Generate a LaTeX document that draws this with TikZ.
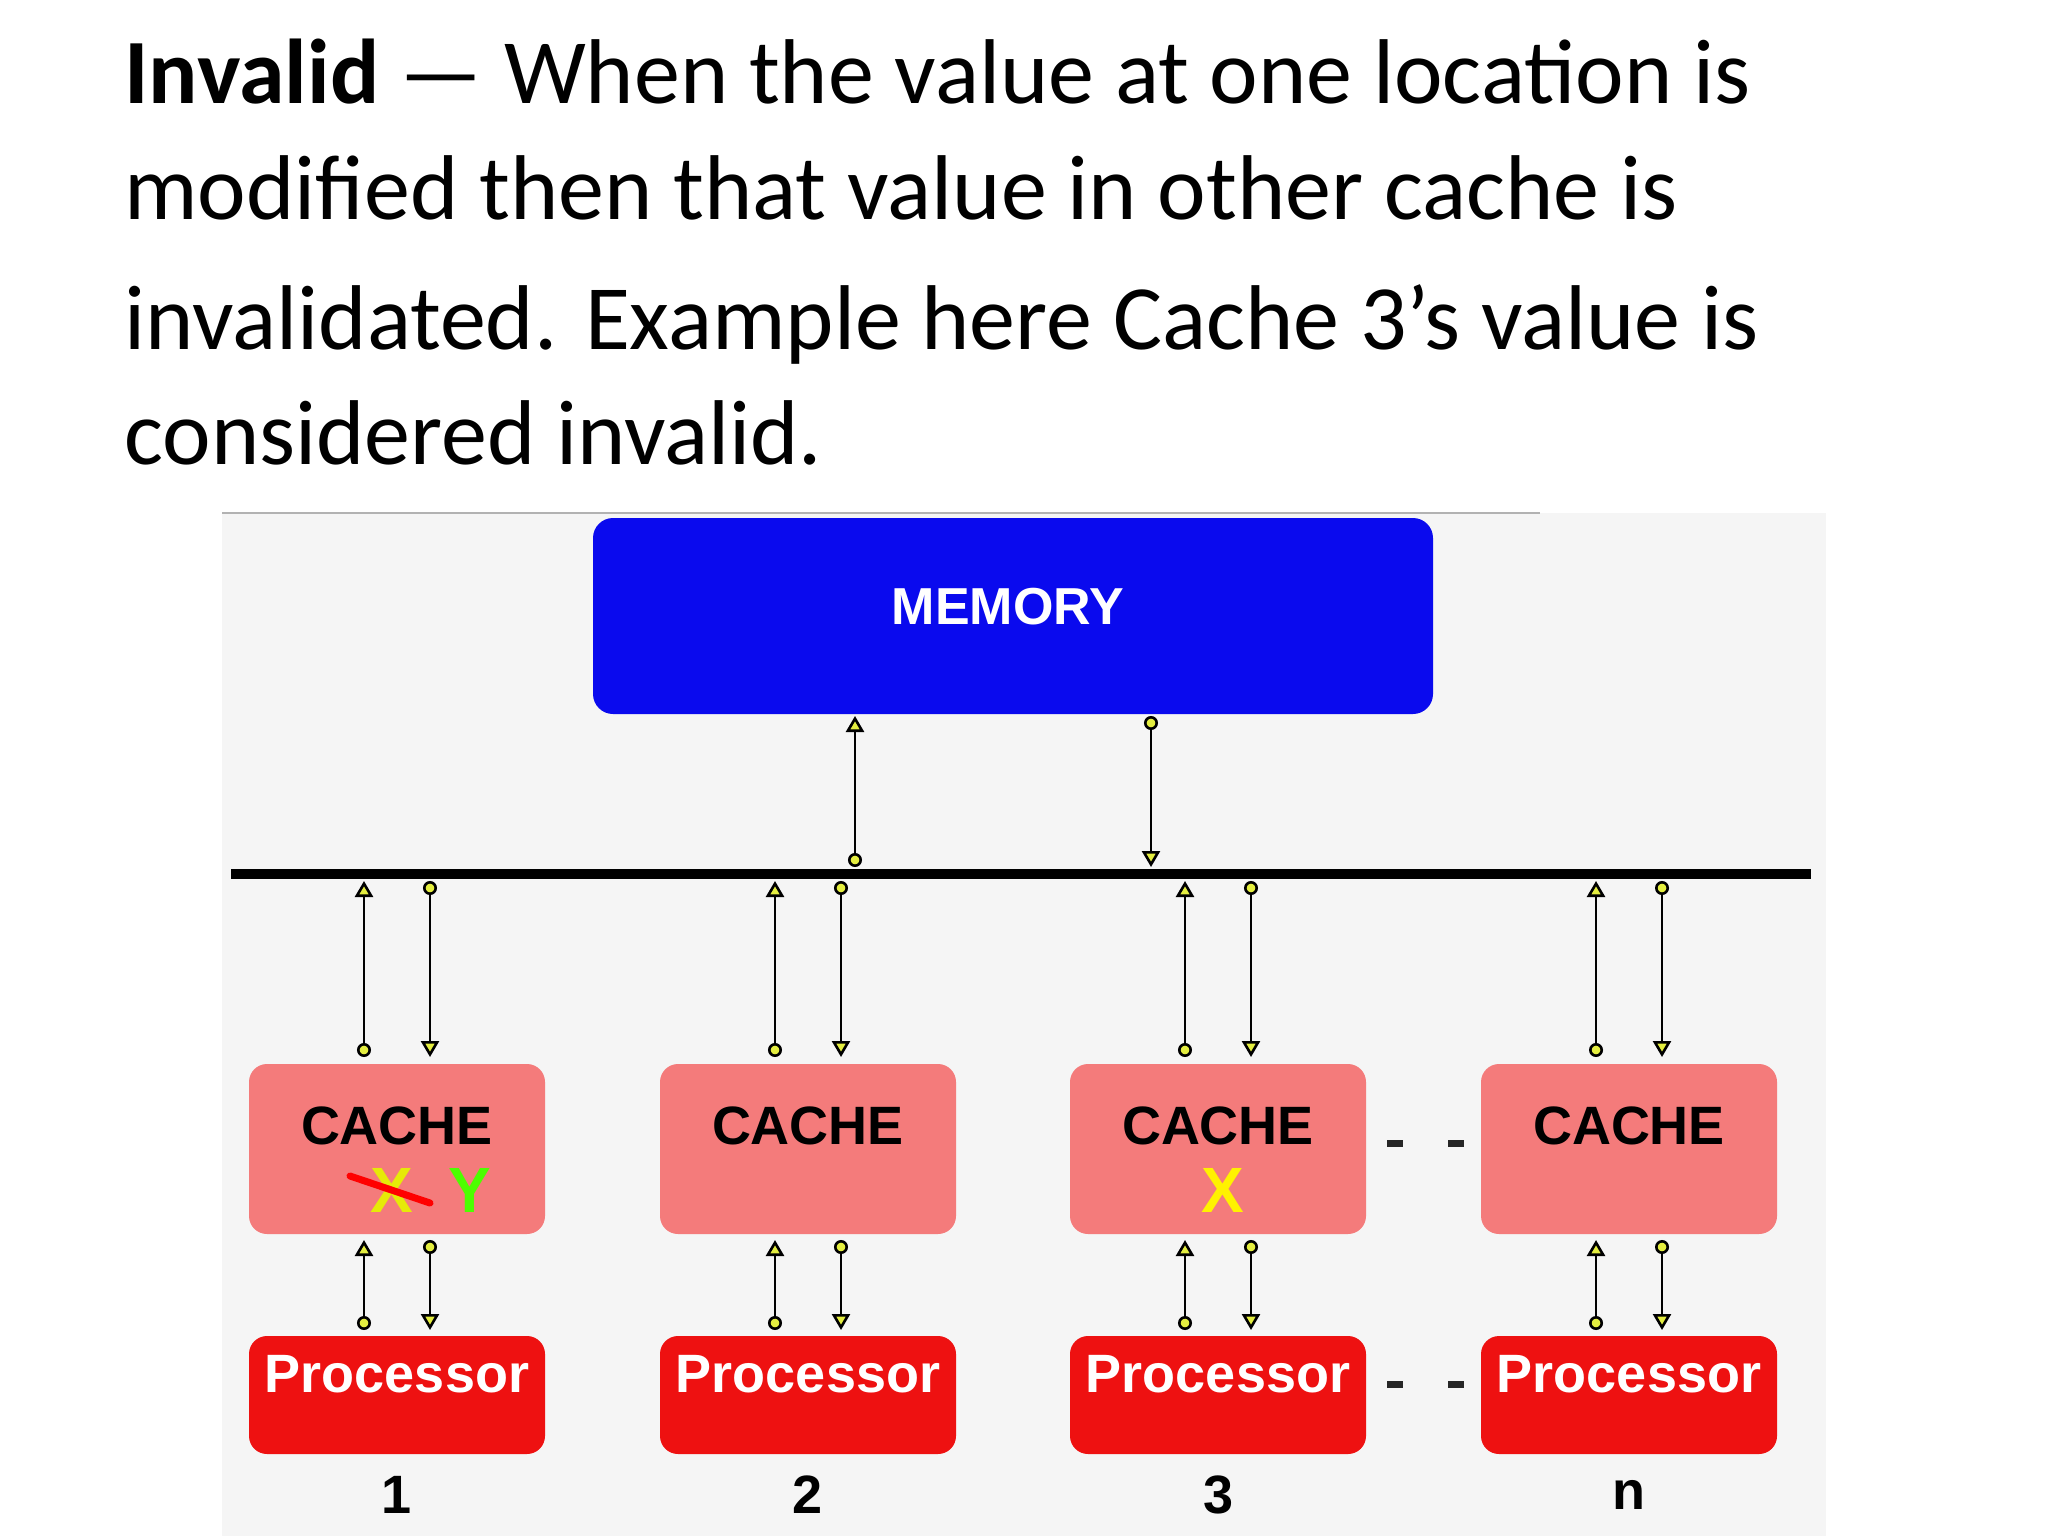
\documentclass[tikz,border=0pt]{standalone}
\usepackage{fontspec}
\setmainfont{Carlito}
\newfontfamily\lab{Liberation Sans}
\usetikzlibrary{arrows.meta}
\definecolor{bg}{HTML}{F5F5F5}
\definecolor{cachec}{HTML}{F47B7B}
\definecolor{procc}{HTML}{EE1111}
\definecolor{memc}{HTML}{0A0AEE}
\definecolor{mk}{HTML}{E4EE40}
\begin{document}
\begin{tikzpicture}[x=0.5pt,y=-0.5pt,
  box/.style={draw=none,rounded corners=9pt,minimum width=148pt,inner sep=0pt},
  cache/.style={box,fill=cachec,minimum height=85pt},
  proc/.style={box,fill=procc,minimum height=59pt},
  lbl/.style={font=\lab\bfseries\fontsize{27}{27}\selectfont},
  up/.style={line width=1.3pt,{Circle[fill=mk,length=7pt,width=7pt]}-{Triangle[fill=mk,length=8pt,width=9pt]}},
  dn/.style={line width=1.3pt,{Circle[fill=mk,length=7pt,width=7pt]}-{Triangle[fill=mk,length=8pt,width=9pt]}},
  ttl/.style={anchor=base west,inner sep=0pt,font=\fontsize{46}{46}\selectfont}]
\useasboundingbox (0,0) rectangle (2048,1536);
\fill[white] (0,0) rectangle (2048,1536);
% title
\node[ttl] (t1) at (124,104) {\textbf{Invalid} --- When the value at one location is};
\node[ttl] (t2) at (124,219) {modified then that value in other cache is};
\node[ttl] (t3) at (124,349) {invalidated. Example here Cache 3’s value is};
\node[ttl] (t4) at (124,464) {considered invalid.};
% background
\fill[bg] (222,513) rectangle (1826,1536);
\draw[gray!60,line width=1pt] (222,513) -- (1540,513);
% memory
\node[box,fill=memc,minimum width=420pt,minimum height=98pt,rounded corners=10pt] (mem) at (1013,616) {};
\node[lbl,text=white,font=\lab\bfseries\fontsize{26}{26}\selectfont] (meml) at (1008,607) {MEMORY};
% bus
\draw[line width=5pt] (231,874) coordinate (busL) -- (1811,874) coordinate (busR);
\coordinate (m1t) at (855,716); \coordinate (m1b) at (855,867);
\coordinate (m2t) at (1151,716); \coordinate (m2b) at (1151,867);
\draw[up] (m1b) -- (m1t);
\draw[dn] (m2t) -- (m2b);
\foreach \i/\cx/\n in {1/397/1,2/808/2,3/1218/3,4/1629/n}{
  \node[cache] (c\i) at (\cx,1149) {};
  \node[lbl] (cl\i) at (\cx,1126) {CACHE};
  \node[proc] (p\i) at (\cx,1395) {};
  \node[lbl,text=white,font=\lab\bfseries\fontsize{27}{27}\selectfont] (pl\i) at (\cx,1374) {Processor};
  \node[lbl] (n\i) at (\cx,1495) {\n};
  \coordinate (a\i) at (\cx-33,881); \coordinate (b\i) at (\cx-33,1057);
  \coordinate (d\i) at (\cx+33,881); \coordinate (e\i) at (\cx+33,1057);
  \coordinate (f\i) at (\cx-33,1240); \coordinate (g\i) at (\cx-33,1330);
  \coordinate (h\i) at (\cx+33,1240); \coordinate (k\i) at (\cx+33,1330);
  \draw[up] (b\i) -- (a\i);
  \draw[dn] (d\i) -- (e\i);
  \draw[up] (g\i) -- (f\i);
  \draw[dn] (h\i) -- (k\i);
}
% X Y marks
\node[font=\lab\bfseries\fontsize{32}{32}\selectfont,text=yellow!90!green] (x1) at (392,1190) {X};
\node[font=\lab\bfseries\fontsize{32}{32}\selectfont,text=green!70!yellow] (y1) at (470,1190) {Y};
\draw[red,line width=3.5pt,line cap=round] (350,1176) -- (430,1203);
\node[font=\lab\bfseries\fontsize{32}{32}\selectfont,text=yellow] (x3) at (1223,1190) {X};
% dashes
\foreach \x in {1395,1456}{
  \draw[line width=3.5pt,gray!30!black] (\x-8,1143) -- (\x+8,1143);
  \draw[line width=3.5pt,gray!30!black] (\x-8,1384) -- (\x+8,1384);
}
\end{tikzpicture}
\end{document}
